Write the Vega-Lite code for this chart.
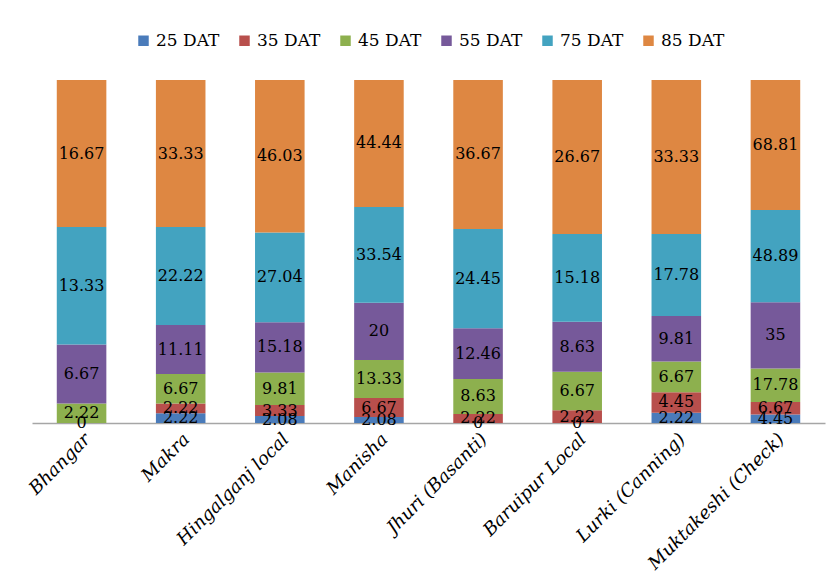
{
  "$schema": "https://vega.github.io/schema/vega-lite/v6.json",
  "width": 793,
  "height": 343,
  "autosize": {"type": "none"},
  "padding": {"left": 32, "top": 80, "right": 7, "bottom": 158},
  "background": "white",
  "config": {
    "view": {"stroke": null},
    "font": "DejaVu Serif"
  },
  "data": {
    "values": [
      {"variety": "Bhangar", "stage": "25 DAT", "value": 0},
      {"variety": "Bhangar", "stage": "45 DAT", "value": 2.22},
      {"variety": "Bhangar", "stage": "55 DAT", "value": 6.67},
      {"variety": "Bhangar", "stage": "75 DAT", "value": 13.33},
      {"variety": "Bhangar", "stage": "85 DAT", "value": 16.67},

      {"variety": "Makra", "stage": "25 DAT", "value": 2.22},
      {"variety": "Makra", "stage": "35 DAT", "value": 2.22},
      {"variety": "Makra", "stage": "45 DAT", "value": 6.67},
      {"variety": "Makra", "stage": "55 DAT", "value": 11.11},
      {"variety": "Makra", "stage": "75 DAT", "value": 22.22},
      {"variety": "Makra", "stage": "85 DAT", "value": 33.33},

      {"variety": "Hingalganj local", "stage": "25 DAT", "value": 2.08},
      {"variety": "Hingalganj local", "stage": "35 DAT", "value": 3.33},
      {"variety": "Hingalganj local", "stage": "45 DAT", "value": 9.81},
      {"variety": "Hingalganj local", "stage": "55 DAT", "value": 15.18},
      {"variety": "Hingalganj local", "stage": "75 DAT", "value": 27.04},
      {"variety": "Hingalganj local", "stage": "85 DAT", "value": 46.03},

      {"variety": "Manisha", "stage": "25 DAT", "value": 2.08},
      {"variety": "Manisha", "stage": "35 DAT", "value": 6.67},
      {"variety": "Manisha", "stage": "45 DAT", "value": 13.33},
      {"variety": "Manisha", "stage": "55 DAT", "value": 20},
      {"variety": "Manisha", "stage": "75 DAT", "value": 33.54},
      {"variety": "Manisha", "stage": "85 DAT", "value": 44.44},

      {"variety": "Jhuri (Basanti)", "stage": "25 DAT", "value": 0},
      {"variety": "Jhuri (Basanti)", "stage": "35 DAT", "value": 2.22},
      {"variety": "Jhuri (Basanti)", "stage": "45 DAT", "value": 8.63},
      {"variety": "Jhuri (Basanti)", "stage": "55 DAT", "value": 12.46},
      {"variety": "Jhuri (Basanti)", "stage": "75 DAT", "value": 24.45},
      {"variety": "Jhuri (Basanti)", "stage": "85 DAT", "value": 36.67},

      {"variety": "Baruipur Local", "stage": "25 DAT", "value": 0},
      {"variety": "Baruipur Local", "stage": "35 DAT", "value": 2.22},
      {"variety": "Baruipur Local", "stage": "45 DAT", "value": 6.67},
      {"variety": "Baruipur Local", "stage": "55 DAT", "value": 8.63},
      {"variety": "Baruipur Local", "stage": "75 DAT", "value": 15.18},
      {"variety": "Baruipur Local", "stage": "85 DAT", "value": 26.67},

      {"variety": "Lurki (Canning)", "stage": "25 DAT", "value": 2.22},
      {"variety": "Lurki (Canning)", "stage": "35 DAT", "value": 4.45},
      {"variety": "Lurki (Canning)", "stage": "45 DAT", "value": 6.67},
      {"variety": "Lurki (Canning)", "stage": "55 DAT", "value": 9.81},
      {"variety": "Lurki (Canning)", "stage": "75 DAT", "value": 17.78},
      {"variety": "Lurki (Canning)", "stage": "85 DAT", "value": 33.33},

      {"variety": "Muktakeshi (Check)", "stage": "25 DAT", "value": 4.45},
      {"variety": "Muktakeshi (Check)", "stage": "35 DAT", "value": 6.67},
      {"variety": "Muktakeshi (Check)", "stage": "45 DAT", "value": 17.78},
      {"variety": "Muktakeshi (Check)", "stage": "55 DAT", "value": 35},
      {"variety": "Muktakeshi (Check)", "stage": "75 DAT", "value": 48.89},
      {"variety": "Muktakeshi (Check)", "stage": "85 DAT", "value": 68.81}
    ]
  },
  "encoding": {
    "x": {
      "field": "variety",
      "type": "nominal",
      "sort": null,
      "scale": {"paddingInner": 0.5, "paddingOuter": 0.25},
      "axis": {
        "title": null,
        "labelAngle": -45,
        "labelFont": "DejaVu Serif",
        "labelFontStyle": "italic",
        "labelFontSize": 18,
        "labelColor": "#000000",
        "labelPadding": 7,
        "labelLimit": 400,
        "ticks": false,
        "domainColor": "#a6a6a6",
        "domainWidth": 1.5,
        "grid": false
      }
    },
    "order": {"field": "stage", "sort": "ascending"}
  },
  "layer": [
    {
      "mark": {"type": "bar"},
      "encoding": {
        "y": {
          "field": "value",
          "type": "quantitative",
          "stack": "normalize",
          "axis": null
        },
        "color": {
          "field": "stage",
          "type": "nominal",
          "scale": {
            "domain": ["25 DAT", "35 DAT", "45 DAT", "55 DAT", "75 DAT", "85 DAT"],
            "range": ["#4a7bba", "#b84f4c", "#8db04e", "#76599a", "#43a3c0", "#de8742"]
          },
          "legend": {
            "title": null,
            "orient": "none",
            "direction": "horizontal",
            "legendX": 103,
            "legendY": -48,
            "symbolType": "square",
            "symbolSize": 110,
            "symbolStrokeWidth": 0,
            "labelFont": "DejaVu Serif",
            "labelFontSize": 17,
            "labelColor": "#000000",
            "labelOffset": 4,
            "columnPadding": 16
          }
        }
      }
    },
    {
      "mark": {"type": "text", "font": "DejaVu Serif", "fontSize": 16, "color": "#000000", "baseline": "middle", "align": "center"},
      "encoding": {
        "y": {
          "field": "value",
          "type": "quantitative",
          "stack": "normalize",
          "bandPosition": 0.5
        },
        "text": {"field": "value", "type": "quantitative"}
      }
    }
  ]
}
